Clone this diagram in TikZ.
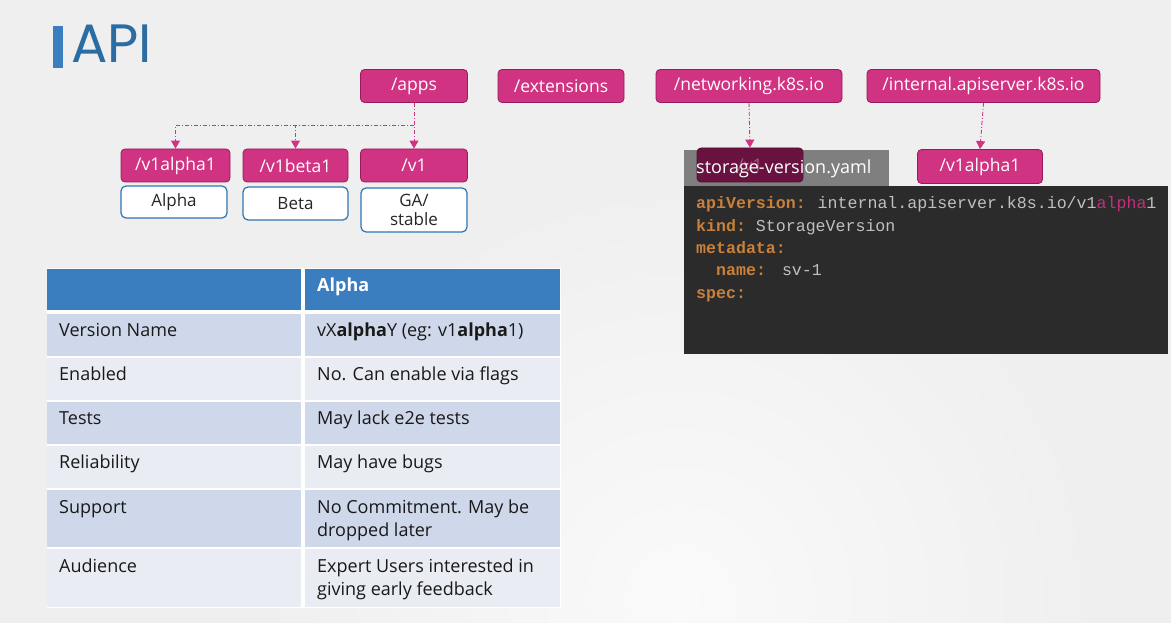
\documentclass[tikz,border=0pt]{standalone}
\usepackage{fontspec}
\setmainfont{Open Sans}
\setmonofont{Liberation Mono}
\newfontfamily\titlefont{Poppins}
\usepackage{xcolor}
\usetikzlibrary{arrows.meta, positioning, calc}
\definecolor{api-bg}{RGB}{239,239,239}
\definecolor{api-glow}{RGB}{250,250,250}
\definecolor{api-title}{RGB}{43,108,163}
\definecolor{api-bar}{RGB}{58,126,191}
\definecolor{api-mag}{RGB}{207,51,130}
\definecolor{api-magdark}{RGB}{150,28,92}
\definecolor{api-v1dark}{RGB}{105,18,64}
\definecolor{stage-blue}{RGB}{46,117,182}
\definecolor{tbl-head}{RGB}{58,126,191}
\definecolor{tbl-dark}{RGB}{207,216,234}
\definecolor{tbl-light}{RGB}{233,236,243}
\definecolor{yaml-bg}{RGB}{43,43,43}
\definecolor{yaml-tab}{RGB}{127,127,127}
\definecolor{yaml-key}{RGB}{200,128,58}
\definecolor{yaml-val}{RGB}{192,192,192}
\definecolor{yaml-hl}{RGB}{192,48,122}
\newcommand{\fs}[2]{\fontsize{#1}{#2}\selectfont}
\newcommand{\ykey}[1]{\textbf{\textcolor{yaml-key}{#1}}}

\begin{document}
\begin{tikzpicture}[x=1pt, y=-1pt,
  pathbox/.style={draw=api-magdark, line width=0.8pt, fill=api-mag, text=white, rounded corners=4pt, minimum height=33pt, inner sep=0pt, font=\fs{17.5}{21}},
  stagebox/.style={draw=stage-blue, line width=1.2pt, fill=white, text=black!85, rounded corners=5pt, inner sep=0pt, align=center, font=\fs{17}{20}},
  link/.style={draw=api-mag, line width=0.9pt, dash pattern=on 4pt off 2pt on 1pt off 2pt, -{Triangle[length=8pt, width=9pt]}},
  cell/.style={inner sep=0pt, anchor=north west, minimum width=254pt},
  celltext/.style={anchor=base west, inner sep=0pt, align=left, text=black!90, font=\fs{18}{23}},
  yaml/.style={anchor=base west, inner sep=0pt, text=yaml-val, font=\ttfamily\fs{16.6}{20}}]
  \useasboundingbox (0,0) rectangle (1171,623);
  \fill[api-bg] (0,0) rectangle (1171,623);
  \begin{scope}
    \clip (0,0) rectangle (1171,623);
    \shade[inner color=api-glow, outer color=api-bg] (680,600) circle (420);
  \end{scope}

  % title
  \fill[api-bar] (53,26) rectangle (63,68);
  \node[anchor=base west, inner sep=0pt, text=api-title, font=\titlefont\fs{54}{60}] (title) at (71,63) {API};

  % api groups
  \node[pathbox, minimum width=107pt] (apps) at (414,86) {/apps};
  \node[pathbox, minimum width=126pt] (ext) at (561,86) {/extensions};
  \node[pathbox, minimum width=186pt] (net) at (749,86) {/networking.k8s.io};
  \node[pathbox, minimum width=233pt] (internal) at (983.5,86) {/internal.apiserver.k8s.io};

  % versions under /apps
  \node[pathbox, minimum width=109pt] (va1) at (175.5,165.5) {/v1alpha1};
  \node[pathbox, minimum width=105pt] (vb1) at (295.5,165.5) {/v1beta1};
  \node[pathbox, minimum width=107pt] (vone) at (414,165.5) {/v1};
  \node[stagebox, minimum width=106pt, minimum height=32pt] (lblalpha) at (174,202) {Alpha};
  \node[stagebox, minimum width=105pt, minimum height=33pt] (lblbeta) at (295.5,203.5) {Beta};
  \node[stagebox, minimum width=106pt, minimum height=44pt, font=\fs{17}{19}] (lblga) at (414,210) {GA/\\stable};

  \coordinate (split) at (414,125.5);
  \draw[link] (apps.south) -- (vone.north);
  \draw[link] (split) -| (va1.north);
  \draw[link] (split) -| (vb1.north);

  % yaml file
  \fill[yaml-tab] (684,150) rectangle (889,186);
  \node[pathbox, draw=api-v1dark!80!black, fill=api-v1dark, text=api-mag!55!yaml-tab, minimum width=106pt, minimum height=34pt] (netv1) at (750,165) {/v1};
  \node[anchor=base west, inner sep=0pt, text=white, font=\fs{18}{22}] (yamlname) at (696,174) {storage-version.yaml};
  \node[pathbox, minimum width=125pt, minimum height=34pt] (intva1) at (980,166.5) {/v1alpha1};
  \draw[link] (net.south) -- (netv1.north);
  \draw[link] (internal.south) -- (intva1.north);

  \fill[yaml-bg] (684,186) rectangle (1168,354);
  \node[yaml] (code1) at (696,208) {\ykey{apiVersion:}\hspace{2pt} internal.apiserver.k8s.io/v1\textcolor{yaml-hl}{alpha}1};
  \node[yaml] (code2) at (696,231) {\ykey{kind:} StorageVersion};
  \node[yaml] (code3) at (696,253) {\ykey{metadata:}};
  \node[yaml] (code4) at (716,276) {\ykey{name:}\hspace{16pt}sv-1};
  \node[yaml] (code5) at (696,298) {\ykey{spec:}};

  % comparison table
  \fill[white] (47,268) rectangle (561,608);
  \node[cell, fill=tbl-head, minimum height=41pt] (head1) at (47,269) {};
  \node[cell, fill=tbl-head, minimum height=41pt, minimum width=255pt] (head2) at (305,269) {};
  \node[anchor=base west, inner sep=0pt, text=white, font=\bfseries\fs{18}{22}] (headtxt) at (317,291) {Alpha};

  \node[cell, fill=tbl-dark, minimum height=42pt] (name1) at (47,314) {};
  \node[cell, fill=tbl-dark, minimum height=42pt, minimum width=255pt] (name2) at (305,314) {};
  \node[celltext] at (59,336) {Version Name};
  \node[celltext] at (317,336) {vX\textbf{alpha}Y (eg: v1\textbf{alpha}1)};

  \node[cell, fill=tbl-light, minimum height=42pt] (enab1) at (47,358) {};
  \node[cell, fill=tbl-light, minimum height=42pt, minimum width=255pt] (enab2) at (305,358) {};
  \node[celltext] at (59,380) {Enabled};
  \node[celltext] at (317,380) {No. Can enable via flags};

  \node[cell, fill=tbl-dark, minimum height=42pt] (test1) at (47,402) {};
  \node[cell, fill=tbl-dark, minimum height=42pt, minimum width=255pt] (test2) at (305,402) {};
  \node[celltext] at (59,424) {Tests};
  \node[celltext] at (317,424) {May lack e2e tests};

  \node[cell, fill=tbl-light, minimum height=42pt] (reli1) at (47,446) {};
  \node[cell, fill=tbl-light, minimum height=42pt, minimum width=255pt] (reli2) at (305,446) {};
  \node[celltext] at (59,468) {Reliability};
  \node[celltext] at (317,468) {May have bugs};

  \node[cell, fill=tbl-dark, minimum height=57pt] (supp1) at (47,490) {};
  \node[cell, fill=tbl-dark, minimum height=57pt, minimum width=255pt] (supp2) at (305,490) {};
  \node[celltext] at (59,513) {Support};
  \node[celltext, anchor=north west] at (317,500) {No Commitment. May be\\dropped later};

  \node[cell, fill=tbl-light, minimum height=58pt] (aud1) at (47,549) {};
  \node[cell, fill=tbl-light, minimum height=58pt, minimum width=255pt] (aud2) at (305,549) {};
  \node[celltext] at (59,572) {Audience};
  \node[celltext, anchor=north west] at (317,559) {Expert Users interested in\\giving early feedback};
\end{tikzpicture}
\end{document}
